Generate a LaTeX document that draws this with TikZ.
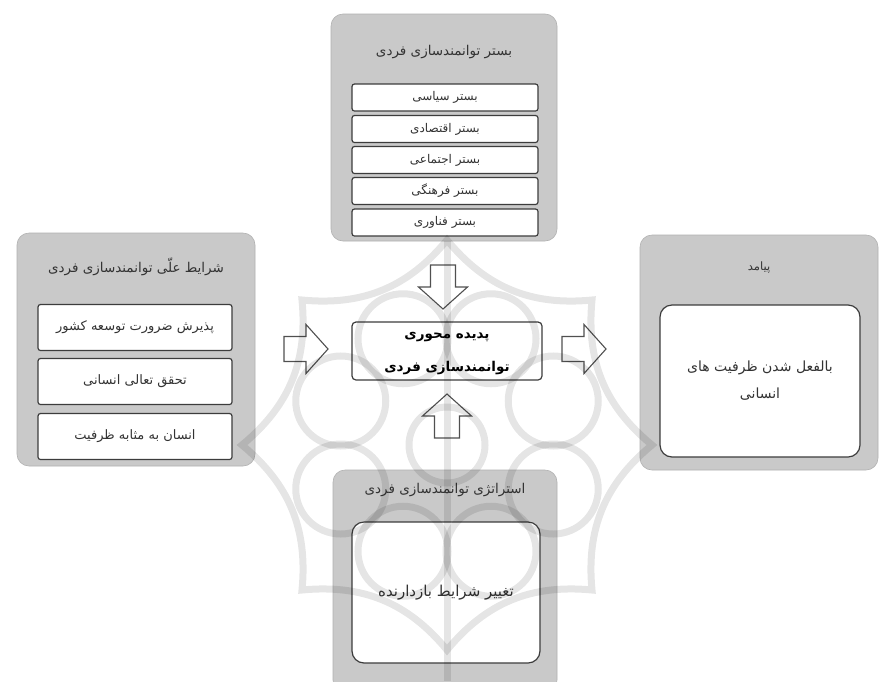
\documentclass[tikz,border=0pt]{standalone}
\usepackage{fontspec}
\usetikzlibrary{calc}
\newfontfamily\fa[Script=Arabic]{DejaVu Sans}
\TeXXeTstate=1
\definecolor{panelgray}{RGB}{201,201,201}
\definecolor{boxline}{RGB}{60,60,60}
\definecolor{arrowline}{RGB}{80,80,80}
\newcommand{\RL}[1]{\beginR #1\endR}
\begin{document}
\begin{tikzpicture}[x=1pt,y=-1pt,
  panel/.style={fill=panelgray, draw=panelgray!88!black, line width=0.6pt, rounded corners=12pt, inner sep=0pt},
  titletext/.style={font=\fa\fontsize{13.5}{15}\selectfont, text=black!80, inner sep=1pt},
  itembox/.style={draw=boxline, fill=white, line width=1.2pt, rounded corners=2.5pt, inner sep=0pt, text=black!80},
  smallitem/.style={itembox, minimum width=186pt, minimum height=27pt, font=\fa\fontsize{12}{13}\selectfont},
  bigitem/.style={itembox, minimum width=194pt, minimum height=46pt, font=\fa\fontsize{13}{15}\selectfont},
  bigbox/.style={draw=boxline, fill=white, line width=1.2pt, rounded corners=12pt, inner sep=0pt, text=black!80, align=center},
  corebox/.style={draw=boxline, fill=white, line width=1.2pt, rounded corners=4pt, inner sep=0pt},
  coretext/.style={align=center, inner sep=0pt, font=\fa\bfseries\fontsize{13.5}{33}\selectfont},
  barrow/.pic={\draw[draw=arrowline, fill=white, line width=1.1pt, line join=miter]
     (0,-12.5) -- (22,-12.5) -- (22,-24.5) -- (44,0) -- (22,24.5) -- (22,12.5) -- (0,12.5) -- cycle;},
  wm/.style={draw=black, opacity=0.10, line width=7pt}
]
\useasboundingbox (0,0) rectangle (896,681);
\fill[white] (0,0) rectangle (896,681);

% ---------- top panel ----------
\node[panel, minimum width=226pt, minimum height=227pt] (toppanel) at (444,127.5) {};
\node[titletext] (toptitle) at (444,52) {\RL{بستر توانمندسازی فردی}};
\node[smallitem] (t1) at (445,97.5) {\RL{بستر سیاسی}};
\node[smallitem] (t2) at (445,129) {\RL{بستر اقتصادی}};
\node[smallitem] (t3) at (445,160) {\RL{بستر اجتماعی}};
\node[smallitem] (t4) at (445,191) {\RL{بستر فرهنگی}};
\node[smallitem] (t5) at (445,222.5) {\RL{بستر فناوری}};

% ---------- left panel ----------
\node[panel, minimum width=238pt, minimum height=233pt] (leftpanel) at (136,349.5) {};
\node[titletext] (lefttitle) at (136,267) {\RL{شرایط علّی توانمندسازی فردی}};
\node[bigitem] (l1) at (135,327.5) {\RL{پذیرش ضرورت توسعه کشور}};
\node[bigitem] (l2) at (135,381.5) {\RL{تحقق تعالی انسانی}};
\node[bigitem] (l3) at (135,436.5) {\RL{انسان به مثابه ظرفیت}};

% ---------- right panel ----------
\node[panel, minimum width=238pt, minimum height=235pt] (rightpanel) at (759,352.5) {};
\node[titletext, font=\fa\fontsize{11.5}{13}\selectfont] (righttitle) at (759,268) {\RL{پیامد}};
\node[bigbox, minimum width=200pt, minimum height=152pt, font=\fa\fontsize{14}{27}\selectfont] (outcome) at (760,381)
  {\RL{بالفعل شدن ظرفیت های}\\\RL{انسانی}};

% ---------- bottom panel ----------
\node[panel, minimum width=224pt, minimum height=222pt] (botpanel) at (445,581) {};
\node[titletext] (bottitle) at (445,490) {\RL{استراتژی توانمندسازی فردی}};
\node[bigbox, minimum width=188pt, minimum height=141pt, font=\fa\fontsize{15}{17}\selectfont] (strategy) at (446,592.5)
  {\RL{تغییر شرایط بازدارنده}};

% ---------- core ----------
\node[corebox, minimum width=190pt, minimum height=58pt] (core) at (447,351) {};
\node[coretext] (corelabel) at (447,354) {\RL{پدیده محوری}\\\RL{توانمندسازی فردی}};

% ---------- block arrows ----------
\coordinate (aL) at (284,349);
\coordinate (aR) at (562,349);
\coordinate (aT) at (443,265);
\coordinate (aB) at (447,438);
\pic at (aL) {barrow};
\pic at (aR) {barrow};
\pic[rotate=-90] at (aT) {barrow};
\pic[rotate=90] at (aB) {barrow};

% ---------- watermark ----------
\begin{scope}[wm]
  \coordinate (wc) at (447,445);
  \draw (447,240) to[bend right=28] (592,300) to[bend right=28] (652,445)
        to[bend right=28] (592,590) to[bend right=28] (447,650)
        to[bend right=28] (302,590) to[bend right=28] (242,445)
        to[bend right=28] (302,300) to[bend right=28] cycle;
  \foreach \a in {22.5,67.5,...,337.5}
    \draw ($(wc)+(\a:115)$) circle (45);
  \draw (wc) circle (38);
  \draw (447,241) -- (447,681);
\end{scope}
\end{tikzpicture}
\end{document}
